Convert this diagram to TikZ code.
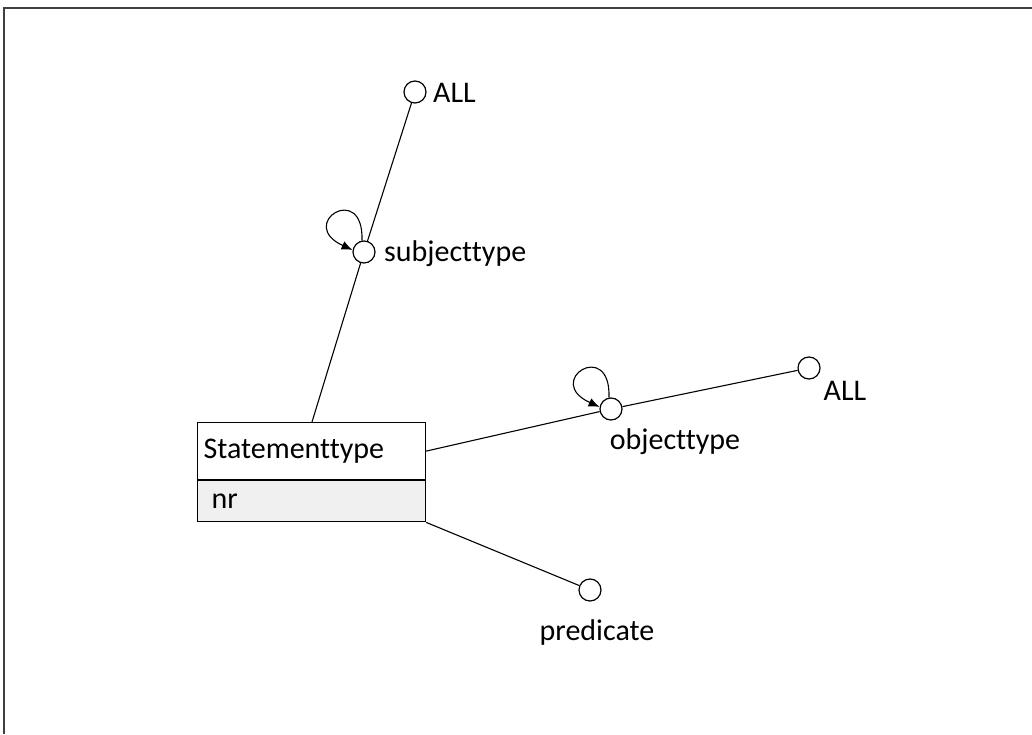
\documentclass[tikz,border=0pt]{standalone}
\usepackage{fontspec}
\setmainfont{Carlito}[Ligatures=NoCommon]
\usetikzlibrary{arrows.meta, positioning}
\definecolor{attrgray}{HTML}{F0F0F0}

\begin{document}
\begin{tikzpicture}[
  x=1pt, y=1pt,
  every node/.style={font=\fontsize{30}{36}\selectfont},
  role/.style={circle, draw, line width=1.2pt, minimum size=22pt, inner sep=0pt},
  ent/.style={rectangle, draw, line width=1.2pt, minimum width=228pt, minimum height=57pt,
              inner sep=6pt, anchor=north west, text width=216pt, align=left},
  attr/.style={ent, fill=attrgray, minimum height=41pt, inner xsep=14pt, text width=200pt},
  conn/.style={line width=1.1pt},
  arr/.style={-{Latex[length=11pt, width=9pt]}, line width=1.1pt}
]
\useasboundingbox (0,0) rectangle (1032,734);
% frame
\draw[line width=1.4pt, black!75] (4,0) -- (4,726) -- (1032,726);

% entity type
\node[ent] (stmt) at (197,312) {Statementtype};
\node[attr, below=0pt of stmt.south west, anchor=north west] (nr) {nr};

% roles
\node[role] (all1) at (415,642) {};
\node[role] (subj) at (364,482) {};
\node[role] (obj) at (611,325) {};
\node[role] (all2) at (809,366) {};
\node[role] (pred) at (590,144) {};

% labels
\node[anchor=west, inner sep=0pt] (all1lbl) at (433,641) {ALL};
\node[anchor=west, inner sep=0pt] (subjlbl) at (384,480) {subjecttype};
\node[inner sep=0pt] (objlbl) at (675,292) {objecttype};
\node[inner sep=0pt] (all2lbl) at (845,343) {ALL};
\node[inner sep=0pt] (predlbl) at (597,102) {predicate};

% connectors
\coordinate (stmttop) at (312,312);
\draw[conn] (all1) -- (subj);
\draw[conn] (subj) -- (stmttop);
\draw[conn] (stmt.east) -- (obj);
\draw[conn] (obj) -- (all2);
\draw[conn] (nr.south east) -- (pred);

% subtype loops
\draw[arr] (subj.100) .. controls +(2,60) and +(-57,26) .. (subj.170);
\draw[arr] (obj.100) .. controls +(2,60) and +(-57,26) .. (obj.170);
\end{tikzpicture}
\end{document}
